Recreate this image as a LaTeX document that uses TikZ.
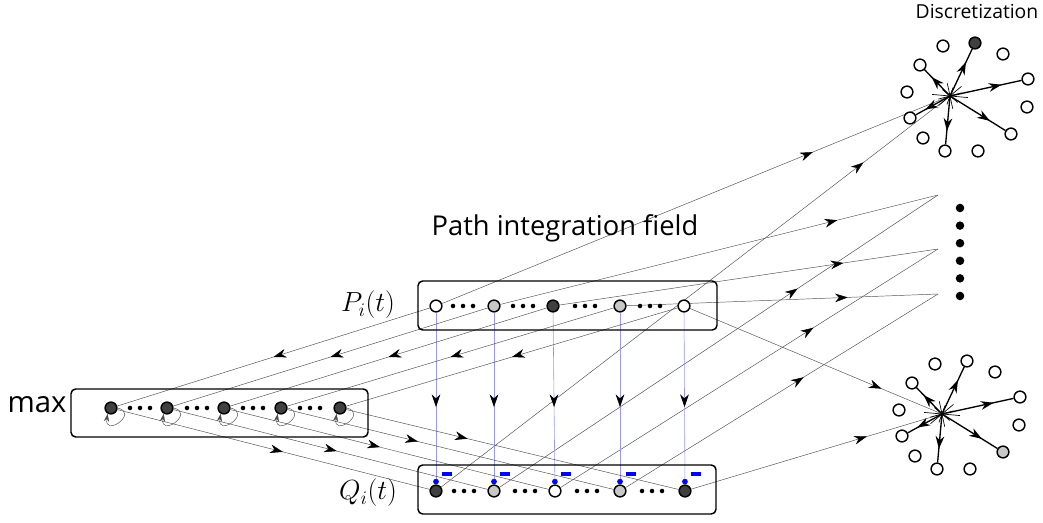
\documentclass[tikz,border=0pt]{standalone}
\usepackage{fontspec}
\setmainfont{Open Sans}
\usetikzlibrary{arrows.meta,decorations.markings,backgrounds}

\begin{document}
\begin{tikzpicture}[x=0.75pt,y=-0.75pt,
  cell/.style={circle,draw=black,line width=1.1pt,minimum size=8.8pt,inner sep=0pt},
  box/.style={draw=black,line width=1.1pt,rounded corners=3.5pt},
  wire/.style={draw=ink,line width=0.35pt},
  midtip/.style={postaction={decorate},decoration={markings,mark=at position #1 with {\arrow{Stealth[length=9.5pt,width=6.5pt,inset=3pt,color=black]}}}},
  spoke/.style={draw=black,line width=1pt,midtip=0.72},
  hair/.style={draw=black,line width=0.5pt},
  vline/.style={draw=pale,line width=0.45pt,-{Circle[length=4.2pt,color=blue]}},
  minus/.style={rectangle,fill=blue,minimum width=7.5pt,minimum height=2.6pt,inner sep=0pt},
  selfloop/.style={wire,-{Stealth[length=6pt,width=4pt,inset=2pt]}}]
  \definecolor{ink}{RGB}{80,80,80}
  \definecolor{dark}{RGB}{64,64,64}
  \definecolor{light}{RGB}{200,200,200}
  \definecolor{pale}{RGB}{150,150,255}

  \useasboundingbox (0,0) rectangle (1043,523);

  \draw[box] (418,281) rectangle (717,330);
  \draw[box] (71,389) rectangle (368,437);
  \draw[box] (418,465) rectangle (716,514);

  \foreach \i/\x/\fc in {1/436/white,2/494/light,3/553/dark,4/620/light,5/684/white}
    \node[cell,fill=\fc] (p\i) at (\x,306) {};
  \foreach \i/\x/\fc in {1/436/dark,2/494/light,3/555/white,4/620/light,5/685/dark}
    \node[cell,fill=\fc] (q\i) at (\x,491) {};
  \foreach \i/\x in {1/111,2/167,3/224,4/281,5/340}
    \node[cell,fill=dark] (m\i) at (\x,408) {};

  \foreach \x/\y in {463/306,523/306,585/306,650/306,464/491,525/491,587/491,652/491,140/408,197/408,253/408,310/408}
    \foreach \d in {-10,0,10}
      \fill (\x+\d,\y) circle[radius=1.7pt];

  \foreach \y in {208,225.6,243.2,260.8,278.4,296}
    \fill (960,\y) circle[radius=3.2pt];

  \coordinate (d1) at (950,96);
  \coordinate (d2) at (938,195);
  \coordinate (d3) at (938,249);
  \coordinate (d4) at (938,294);
  \coordinate (d5) at (942,414);

  \foreach \s/\ca/\cb in {d1/dark/white,d5/white/light} {
    \foreach \k/\dx/\dy/\fc in {1/-7/-50/white,2/25/-53/\ca,3/53/-42/white,4/-30/-31/white,5/78/-17/white,6/-43/-4/white,7/77/11/white,8/-40/22/white,9/61/38/\cb,10/-27/42/white,11/-5/55/white,12/28/55/white}
      \node[cell,fill=\fc] (\s-\k) at ([shift={(\dx,\dy)}]\s) {};
    \foreach \a/\r in {5/18,40/10,78/13,110/9,140/15,165/12}
      \draw[hair] ([shift={(\a:\r)}]\s) -- ([shift={(\a+180:\r)}]\s);
    \foreach \k in {2,4,5,8,9,11}
      \draw[spoke] (\s) -- (\s-\k);
  }

  \node[font=\fontsize{22}{26}\selectfont] (maxlabel) at (37,405) {max};
  \node[font=\fontsize{20.5}{24}\selectfont] (title) at (565,228) {Path integration field};
  \node[font=\fontsize{14.5}{17}\selectfont] (disc) at (977,12) {Discretization};
  \node[font=\fontsize{20}{24}\selectfont] (plabel) at (368,305) {$P_i(t)$};
  \node[font=\fontsize{20}{24}\selectfont] (qlabel) at (368,493) {$Q_i(t)$};

  \begin{scope}[on background layer]
  \foreach \i/\a/\b/\c in {1/0.73/0.83/0.53,2/0.77/0.68/0.52,3/0.75/0.67/0.47,4/0.71/0.57/0.40,5/0.76/0.70/0.365} {
    \draw[wire,midtip=\a] (p\i) -- (d\i);
    \draw[wire,midtip=\b] (q\i) -- (d\i);
    \draw[wire,midtip=0.5] (p\i) -- (m\i);
    \draw[wire,midtip=\c] (m\i) -- (q\i);
    \draw[vline,midtip=0.55] (p\i) -- (q\i);
    \draw[selfloop] (m\i.east) .. controls +(22,5) and +(-4,24) .. (m\i.-120);
  }
  \end{scope}
  \foreach \i in {1,...,5}
    \node[minus] (s\i) at ([shift={(11,-17)}]q\i) {};
\end{tikzpicture}
\end{document}
